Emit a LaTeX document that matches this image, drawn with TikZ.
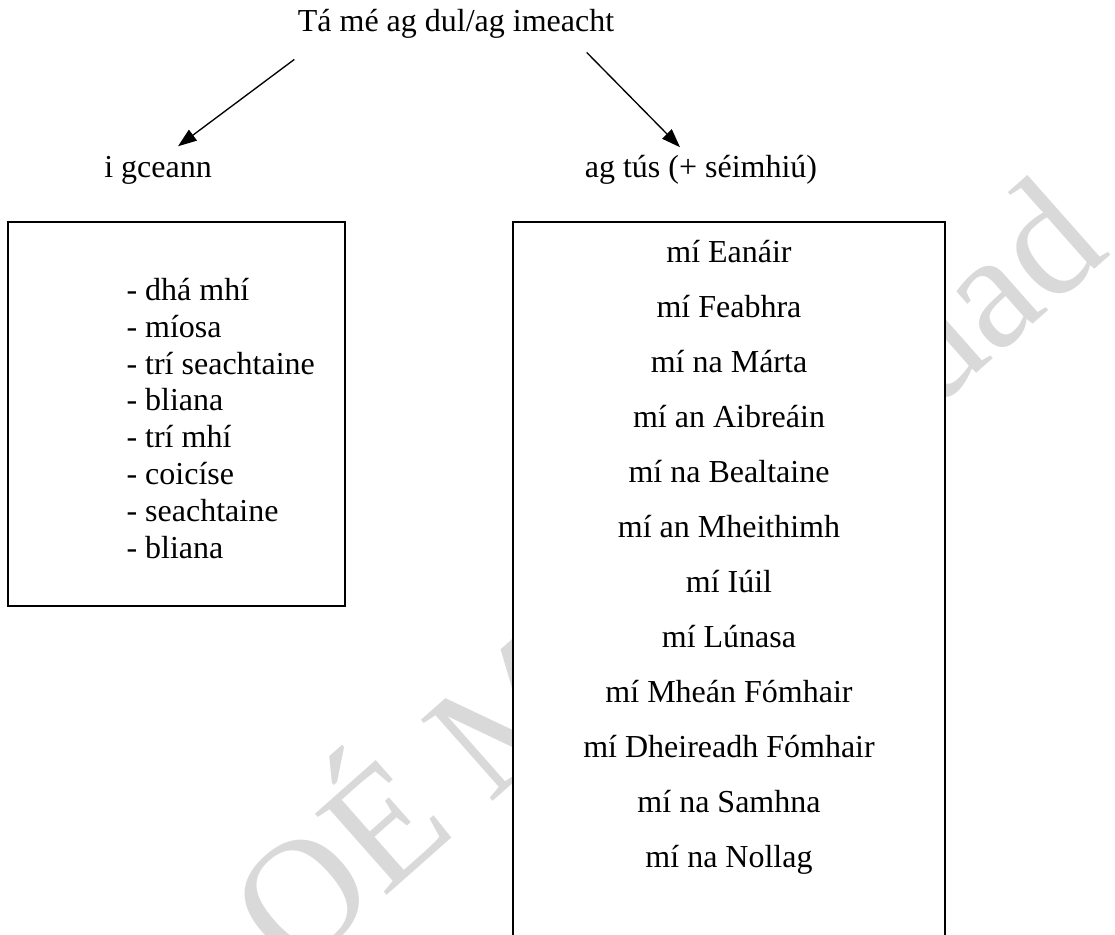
\documentclass[tikz,border=0pt]{standalone}
\usepackage{fontspec}
\setmainfont{Liberation Serif}
\usetikzlibrary{arrows.meta}

\begin{document}
\begin{tikzpicture}[
    x=0.375pt, y=-0.375pt,
    txt/.style={inner sep=0pt, anchor=base, font=\fontsize{12}{13.8}\selectfont},
    box/.style={rectangle, draw, line width=0.75pt, fill=white, inner sep=0pt},
    arrow/.style={-{Triangle[length=7pt,width=5pt]}, line width=0.5pt},
    watermark/.style={inner sep=0pt, text=black!15, font=\fontsize{62}{62}\selectfont}
]
    \clip (0,0) rectangle (1115,934);
    \node[watermark, rotate=41.5] (wm) at (668,576) {OÉ Maigh Nuad};

    \node[txt] (title) at (456,32) {Tá mé ag dul/ag imeacht};
    \node[txt] (gceann) at (158,178) {i gceann};
    \node[txt] (agtus) at (701,178) {ag tús (+ séimhiú)};

    \node[box, minimum width=126.4pt, minimum height=144pt] (durbox) at (176.5,414) {};
    \node[box, minimum width=162pt, minimum height=277pt] (monthbox) at (729,591) {};

    \node[txt, anchor=base west, align=left] (durations) at (126,558)
        {- dhá mhí\\- míosa\\- trí seachtaine\\- bliana\\- trí mhí\\- coicíse\\- seachtaine\\- bliana};
    \node[txt, align=center, font=\fontsize{12}{20.6}\selectfont] (months) at (729,867)
        {mí Eanáir\\mí Feabhra\\mí na Márta\\mí an Aibreáin\\mí na Bealtaine\\mí an Mheithimh\\mí Iúil\\mí Lúnasa\\mí Mheán Fómhair\\mí Dheireadh Fómhair\\mí na Samhna\\mí na Nollag};

    \draw[arrow] ([shift={(-3,20)}]title.south west) -- ([shift={(20,-10)}]gceann.north);
    \draw[arrow] ([shift={(-28,13)}]title.south east) -- ([shift={(-21,-8)}]agtus.north);
\end{tikzpicture}
\end{document}
